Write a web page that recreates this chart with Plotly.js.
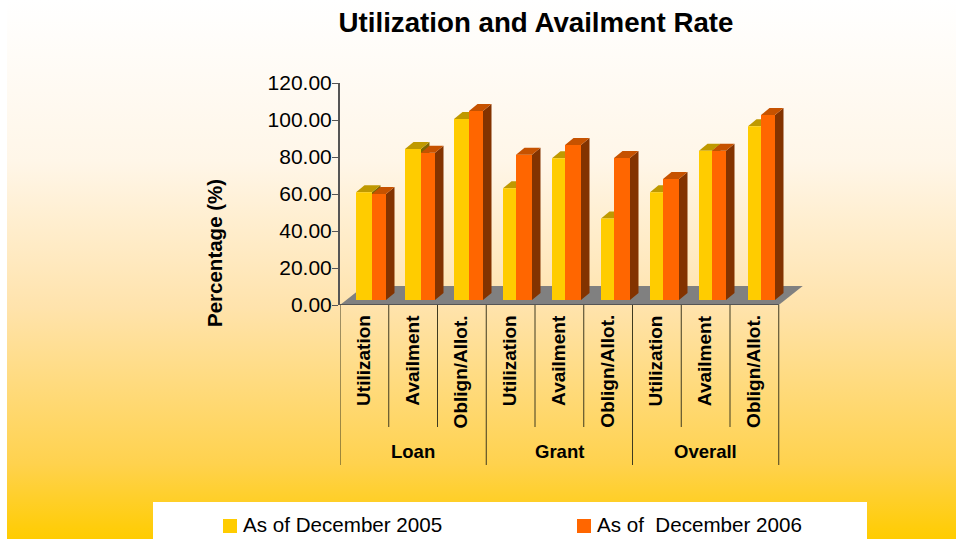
<!DOCTYPE html>
<html>
<head>
<meta charset="utf-8">
<script src="https://cdn.plot.ly/plotly-3.0.1.min.js"></script>
<style>
html,body{margin:0;padding:0;width:956px;height:539px;overflow:hidden;background:#fff}
#bg{position:absolute;left:7px;top:0;width:949px;height:539px;background:linear-gradient(to bottom,#ffffff 0%,#fff6e8 30%,#ffe3ac 57%,#ffd24e 86%,#ffcc00 100%)}
#chart{position:absolute;left:0;top:0;width:956px;height:539px}
</style>
</head>
<body>
<div id="bg"></div>
<div id="chart"></div>
<script>
// ---- data ----
const categories = ["Utilization","Availment","Oblign/Allot.","Utilization","Availment","Oblign/Allot.","Utilization","Availment","Oblign/Allot."];
const groups = ["Loan","Grant","Overall"];
const seriesNames = ["As of December 2005","As of\u00a0 December 2006"];
const dec2005 = [58.2,81.6,97.8,60.4,76.6,44.0,58.2,80.7,93.9];
const dec2006 = [57.3,79.6,102.2,78.5,83.8,76.8,65.4,80.7,100.0];
const yTicks = [0,20,40,60,80,100,120];

// ---- drawing geometry (pixels of the picture, converted to axis units) ----
const plotL=340, plotR=810, plotT=83, plotB=305, W=956, H=539;
const unit=48.75, pxV=(plotB-plotT)/120;
const yellowPx=[16,16,15,13,13,13,13,13,13];
const orangePx=[14,14,14,16,16,16,16,14,14];
const depthX=8.5/unit, depthY=7/pxV;
const base=5/pxV;
const floorDX=24/unit, floorDY=19/pxV;
const C={y:"#ffcc00",o:"#ff6600",yTop:"#bf9900",oTop:"#c65200",ySide:"#7f6600",oSide:"#833300",floor:"#808080",axis:"#555555"};
const FONT="Liberation Sans, Arial, sans-serif";
const n=categories.length;
const leftOf=i=>i-0.5+(16+i*0.25)/unit;
const yOff=categories.map((_,i)=>leftOf(i)-i);
const yW=yellowPx.map(p=>p/unit);
const oOff=categories.map((_,i)=>yOff[i]+yW[i]);
const oW=orangePx.map(p=>p/unit);
const xs=categories.map((_,i)=>i);

function poly(pts){return "M"+pts.map(p=>p[0]+","+p[1]).join("L")+"Z";}
const py=v=>(plotB-v)/(plotB-plotT);      // picture y to paper
const px=v=>(v-plotL)/(plotR-plotL);      // picture x to paper

const shapes=[];
// white legend panel
shapes.push({type:"rect",xref:"paper",yref:"paper",x0:px(153),x1:px(867),y0:py(539),y1:py(502),fillcolor:"#ffffff",line:{width:0},layer:"below"});
// legend swatches
[[223,C.y],[577,C.o]].forEach(([l,c])=>shapes.push({type:"rect",xref:"paper",yref:"paper",x0:px(l),x1:px(l+14),y0:py(533),y1:py(519),fillcolor:c,line:{width:0}}));
// floor
shapes.push({type:"path",xref:"x",yref:"y",layer:"below",fillcolor:C.floor,line:{width:0},
  path:poly([[-0.5,0],[8.5,0],[8.5+floorDX,floorDY],[-0.5+floorDX,floorDY]])});
// yellow tops and sides sit behind the orange bars
categories.forEach((_,i)=>{
  const x0=i+yOff[i],x1=x0+yW[i],t=dec2005[i]+base;
  shapes.push({type:"path",xref:"x",yref:"y",layer:"below",fillcolor:C.ySide,line:{width:0},
    path:poly([[x1,base],[x1+depthX,base+depthY],[x1+depthX,t+depthY],[x1,t]])});
  shapes.push({type:"path",xref:"x",yref:"y",layer:"below",fillcolor:C.yTop,line:{width:0},
    path:poly([[x0,t],[x1,t],[x1+depthX,t+depthY],[x0+depthX,t+depthY]])});
});
// category dividers
for(let i=0;i<=n;i++){
  const long=i%3===0;
  shapes.push({type:"line",xref:"x",yref:"paper",x0:i-0.5,x1:i-0.5,y0:py(305),y1:py(long?465:427),line:{color:"#3f3a20",width:1}});
}
// front edge of the floor
shapes.push({type:"line",xref:"x",yref:"y",x0:-0.5,x1:8.5,y0:0,y1:0,line:{color:C.axis,width:2}});

const annotations=[];
categories.forEach((c,i)=>annotations.push({xref:"x",yref:"paper",x:i,y:py(313),xanchor:"center",yanchor:"top",xshift:-1,
  text:"<b>"+c+"</b>",textangle:-90,showarrow:false,font:{family:FONT,size:19,color:"#000"}}));
groups.forEach((g,i)=>annotations.push({xref:"x",yref:"paper",x:i*3+1,y:py(451),xanchor:"center",yanchor:"middle",
  text:"<b>"+g+"</b>",showarrow:false,font:{family:FONT,size:18.5,color:"#000"}}));
annotations.push({xref:"paper",yref:"paper",x:px(214),y:py(253),xanchor:"center",yanchor:"middle",
  text:"<b>Percentage (%)</b>",textangle:-90,showarrow:false,font:{family:FONT,size:20.5,color:"#000"}});
// legend labels
[[242,seriesNames[0]],[596,seriesNames[1]]].forEach(([l,t])=>annotations.push({xref:"paper",yref:"paper",x:px(l),y:py(524),xanchor:"left",yanchor:"middle",xshift:-1,
  text:t,showarrow:false,font:{family:FONT,size:20.6,color:"#000"}}));

// orange sides and tops, above all bars
const sideX=[],sideY=[],topX=[],topY=[];
categories.forEach((_,i)=>{
  const x0=i+oOff[i],x1=x0+oW[i],t=dec2006[i]+base;
  sideX.push(x1,x1+depthX,x1+depthX,x1,x1,null);
  sideY.push(base,base+depthY,t+depthY,t,base,null);
  topX.push(x0,x1,x1+depthX,x0+depthX,x0,null);
  topY.push(t,t,t+depthY,t+depthY,t,null);
});

const traces=[
 {type:"bar",name:seriesNames[0],x:xs,y:dec2005,base:base,offset:yOff,width:yW,marker:{color:C.y,line:{width:0}},hoverinfo:"skip"},
 {type:"bar",name:seriesNames[1],x:xs,y:dec2006,base:base,offset:oOff,width:oW,marker:{color:C.o,line:{width:0}},hoverinfo:"skip"},
 {type:"scatter",mode:"lines",x:sideX,y:sideY,fill:"toself",fillcolor:C.oSide,line:{width:0,color:C.oSide},hoverinfo:"skip"},
 {type:"scatter",mode:"lines",x:topX,y:topY,fill:"toself",fillcolor:C.oTop,line:{width:0,color:C.oTop},hoverinfo:"skip"}
];

const layout={
  width:W,height:H,showlegend:false,
  paper_bgcolor:"rgba(0,0,0,0)",plot_bgcolor:"rgba(0,0,0,0)",
  margin:{l:plotL,r:W-plotR,t:plotT,b:H-plotB,pad:0,autoexpand:false},
  barmode:"overlay",
  title:{text:"<b>Utilization and Availment Rate</b>",x:536/W,xanchor:"center",y:1-22/H,yanchor:"middle",
    font:{family:FONT,size:27.7,color:"#000"}},
  xaxis:{range:[-0.5,-0.5+(plotR-plotL)/unit],showticklabels:false,showgrid:false,zeroline:false,showline:false,ticks:"",fixedrange:true},
  yaxis:{range:[0,120],tickvals:yTicks,ticktext:yTicks.map(v=>v.toFixed(2)),showgrid:false,zeroline:false,showline:true,
    linecolor:C.axis,linewidth:2,ticks:"outside",ticklen:6,tickcolor:C.axis,tickwidth:1,ticklabelstandoff:-4,
    tickfont:{family:FONT,size:21,color:"#000"},fixedrange:true},
  shapes:shapes,annotations:annotations
};
Plotly.newPlot("chart",traces,layout,{displayModeBar:false,staticPlot:true});
</script>
</body>
</html>
